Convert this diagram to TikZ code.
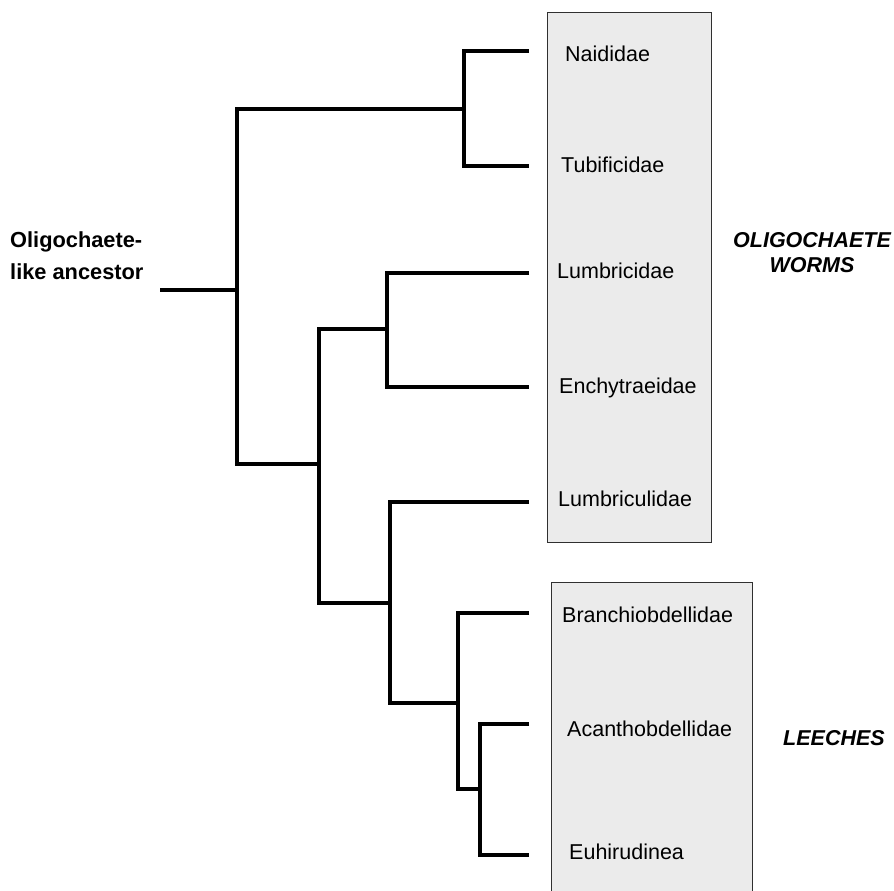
\documentclass[tikz,border=0pt]{standalone}
\usepackage{fontspec}
\setmainfont{Liberation Sans}
\definecolor{boxfill}{HTML}{EBEBEB}
\definecolor{boxline}{HTML}{303030}
\begin{document}
\begin{tikzpicture}[x=1pt,y=-1pt,
  branch/.style={line width=3.4pt,line join=miter,black},
  cladebox/.style={draw=boxline,line width=1.2pt,fill=boxfill},
  taxon/.style={anchor=base west,inner sep=0pt,font=\fontsize{21.5}{26}\selectfont},
  grouplabel/.style={anchor=base,inner sep=0pt,align=center,font=\fontsize{21.5}{25}\selectfont\bfseries\itshape},
  rootlabel/.style={anchor=base west,inner sep=0pt,align=left,font=\fontsize{21.8}{32}\selectfont\bfseries}]
\useasboundingbox (0,0) rectangle (894,891);
\clip (0,0) rectangle (894,891);
% boxes
\node[cladebox,inner sep=0pt,minimum width=164pt,minimum height=530pt,anchor=north west] (box1) at (547,12) {};
\node[cladebox,inner sep=0pt,minimum width=201pt,minimum height=330pt,anchor=north west] (box2) at (551,582) {};
% labels
\node[taxon] (naid) at (565,62) {Naididae};
\node[taxon] (tubi) at (561,172) {Tubificidae};
\node[taxon] (lumb) at (557,278) {Lumbricidae};
\node[taxon] (ench) at (559,393) {Enchytraeidae};
\node[taxon] (lumbc) at (558,506) {Lumbriculidae};
\node[taxon] (bran) at (562,622) {Branchiobdellidae};
\node[taxon] (acan) at (567,736) {Acanthobdellidae};
\node[taxon] (euhi) at (569,859) {Euhirudinea};
\node[rootlabel] (anc) at (10,279) {Oligochaete-\\like ancestor};
\node[grouplabel] (olig) at (812,272) {OLIGOCHAETE\\WORMS};
\node[grouplabel,anchor=base west] (leech) at (783,745) {LEECHES};
% leaf tips
\coordinate (tN) at (529,51);
\coordinate (tT) at (529,166);
\coordinate (tL) at (529,273);
\coordinate (tE) at (529,387);
\coordinate (tLc) at (529,502);
\coordinate (tB) at (529,613);
\coordinate (tA) at (529,724);
\coordinate (tEu) at (529,855);
% junctions
\coordinate (r0) at (160,290);
\coordinate (c1) at (237,290);
\coordinate (c2) at (464,109);
\coordinate (c3) at (319,464);
\coordinate (c4) at (387,329);
\coordinate (c5) at (390,603);
\coordinate (c6) at (458,703);
\coordinate (c7) at (480,789);
% tree
\draw[branch] (r0) -- (c1);
\draw[branch] (c2) -| (c1) |- (c3);
\draw[branch] (tN) -| (c2) |- (tT);
\draw[branch] (c4) -| (c3) |- (c5);
\draw[branch] (tL) -| (c4) |- (tE);
\draw[branch] (tLc) -| (c5) |- (c6);
\draw[branch] (tB) -| (c6) |- (c7);
\draw[branch] (tA) -| (c7) |- (tEu);
\end{tikzpicture}
\end{document}
